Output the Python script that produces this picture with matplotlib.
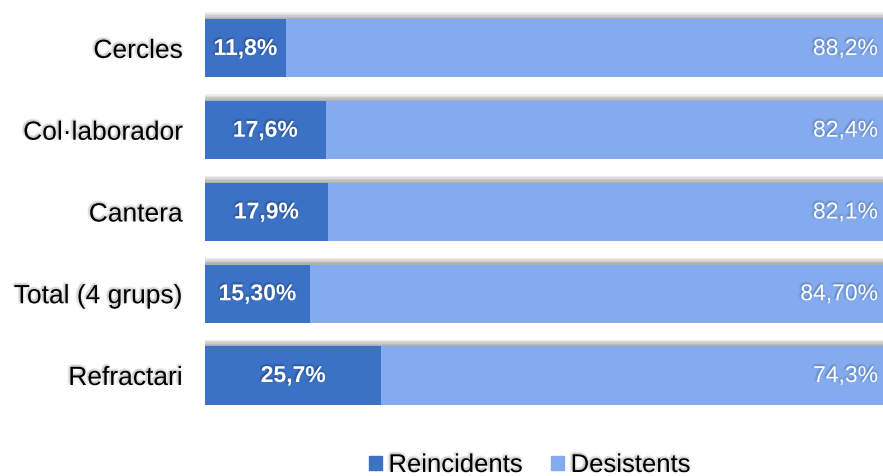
import matplotlib
matplotlib.use('Agg')
import matplotlib.pyplot as plt
import matplotlib.patheffects as pe
from matplotlib.patches import Patch

plt.rcParams['font.family'] = ['Liberation Sans', 'DejaVu Sans']

categories = ['Cercles', 'Col·laborador', 'Cantera', 'Total (4 grups)', 'Refractari']
reincidents = [11.8, 17.6, 17.9, 15.3, 25.7]
desistents = [88.2, 82.4, 82.1, 84.7, 74.3]
reinc_labels = ['11,8%', '17,6%', '17,9%', '15,30%', '25,7%']
desist_labels = ['88,2%', '82,4%', '82,1%', '84,70%', '74,3%']

dark = '#3C72C5'
light = '#83ABEE'

# soft blurred-ish shadow built from a few offset layers
def text_shadow(alpha=0.07):
    fx = []
    for dx, dy in [(-1.5, 1.5), (-1, 1), (0, 2), (-2, 0), (1, 1), (0, 0)]:
        fx.append(pe.SimplePatchShadow(offset=(dx, dy), shadow_rgbFace='black', alpha=alpha))
    fx.append(pe.Normal())
    return fx

bar_shadow = [pe.SimplePatchShadow(offset=(0, k), shadow_rgbFace='black', alpha=0.07)
              for k in (1, 2, 3, 4, 5)] + [pe.Normal()]

fig = plt.figure(figsize=(8.83, 4.77), dpi=100)
ax = fig.add_axes([205 / 883, 0.125, 686 / 883, 0.857])

ypos = list(range(len(categories)))
b1 = ax.barh(ypos, reincidents, height=0.71, color=dark, label='Reincidents')
b2 = ax.barh(ypos, desistents, left=reincidents, height=0.71, color=light, label='Desistents')
for r1, r2 in zip(b1, b2):
    r1.set_path_effects(bar_shadow)
    r2.set_path_effects(bar_shadow)

lab = ax.bar_label(b1, labels=reinc_labels, label_type='center', color='white',
                   fontsize=16.5, fontweight='bold')
for t in lab:
    t.set_path_effects(text_shadow(0.06))

for i, (a, b, s) in enumerate(zip(reincidents, desistents, desist_labels)):
    t = ax.annotate(s, xy=(a + b, i), xytext=(-9.5, 0), textcoords='offset points',
                    ha='right', va='center', color='white', fontsize=16.5)
    t.set_path_effects(text_shadow(0.05))

ax.set_xlim(0, 100)
ax.set_ylim(len(categories) - 0.5, -0.5)
ax.set_yticks(ypos)
ax.set_yticklabels(categories, fontsize=19)
for t in ax.get_yticklabels():
    t.set_path_effects(text_shadow(0.06))
ax.tick_params(axis='y', length=0, pad=16)
ax.set_xticks([])
for s in ax.spines.values():
    s.set_visible(False)

handles = [Patch(color=dark), Patch(color=light)]
leg = fig.legend(handles, ['Reincidents', 'Desistents'], loc='center',
                 bbox_to_anchor=(530 / 883, 1 - 466 / 477), ncol=2, frameon=False,
                 fontsize=18.5, handlelength=0.5, handleheight=0.5,
                 handletextpad=0.25, columnspacing=1.1)
for t in leg.get_texts():
    t.set_path_effects(text_shadow(0.06))

fig.savefig('out.png', dpi=100)
